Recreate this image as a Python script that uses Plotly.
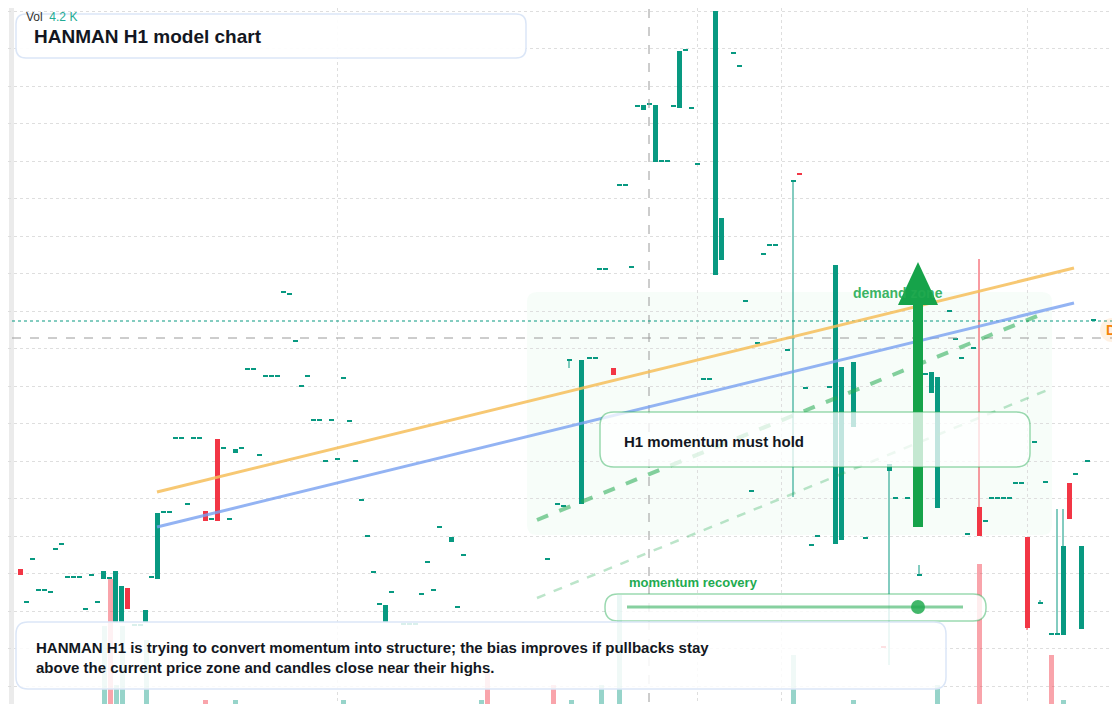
import plotly.graph_objects as go

# bar positions (horizontal slot) and OHLC in price units
pos = [20,26,32,38,44,50,55,61,67,73,79,85,91,97,103,109,115,121,127,134,140,145,151,157,163,169,175,181,187,193,199,205,211,217,223,229,235,241,247,253,259,265,271,277,283,289,295,301,307,313,319,325,331,337,343,349,355,361,367,373,379,385,391,403,409,415,421,427,433,439,451,457,463,547,557,563,569,581,589,595,599,605,613,619,625,631,637,643,649,655,661,667,673,679,685,691,697,703,709,715,721,733,739,745,751,757,763,769,775,787,793,799,805,811,817,829,835,841,853,865,883,889,895,907,919,925,931,937,949,955,961,967,973,979,985,991,997,1003,1009,1015,1021,1027,1034,1040,1045,1051,1057,1063,1069,1075,1081,1087,1093]
open_ = [135,101,144,113,113,111,154,159,126,126,126,94,128,101,125,125,82,82,116,78,78,82,126,125,191,191,265,265,199,265,265,193,184,265,255,184,251,255,334,334,248,327,327,327,411,409,362,317,327,283,283,242,283,244,325,282,242,203,167,131,99,82,111,79,79,79,109,141,113,176,162,96,148,144,199,197,343,200,345,345,434,434,336,518,518,436,597,594,599,542,542,542,597,596,653,595,539,324,324,429,444,650,637,402,212,360,449,458,458,353,522,531,315,158,167,316,160,164,277,165,58,233,205,205,128,329,311,196,392,364,345,169,355,197,182,205,205,205,205,220,220,167,261,100,221,69,69,69,221,229,75,242,383]
close = [129,101,144,113,113,111,154,159,126,126,126,94,128,101,133,125,133,118,95,78,78,94,126,191,191,191,265,265,199,265,265,183,184,183,255,184,255,255,334,334,248,327,327,327,411,409,362,317,327,283,283,242,283,244,325,282,242,203,167,131,99,99,111,79,79,79,109,141,113,176,167,96,148,144,199,197,344,344,345,345,434,434,329,518,518,436,597,599,599,599,542,542,597,653,653,595,539,324,324,693,486,650,637,402,212,360,449,458,458,353,524,529,315,158,167,316,439,337,342,165,56,240,205,205,129,329,332,327,392,364,345,169,355,168,182,205,205,205,205,220,220,76,261,100,221,69,71,158,185,229,158,242,383]
high = {569:344, 793:524, 889:240, 919:139, 979:445, 1040:104, 1057:195, 1063:195, 1027:167}
low = {569:336, 793:207, 889:39, 1027:74}

vol_pos = [104,110,116,122,146,205,235,343,481,487,553,571,601,619,793,853,937,979,1051,1063]
vol_val = [78,125,19,78,64,4,4,4,4,32,19,4,19,109,49,4,19,140,49,4]
vol_up = [1,0,1,1,1,0,1,1,1,0,0,1,1,1,1,1,1,0,0,1]

GREEN, RED = "#089981", "#F23645"
H = 704
OFF = 8  # page body margin of the browser

fig = go.Figure()

fig.add_trace(go.Bar(x=vol_pos, y=vol_val, width=5, yaxis="y2",
                     marker=dict(color=["rgba(8,153,129,0.42)" if u else "rgba(242,54,69,0.45)" for u in vol_up], line_width=0),
                     hoverinfo="skip", showlegend=False))

for col, up in ((GREEN, True), (RED, False)):
    wx, wy = [], []
    for i, p in enumerate(pos):
        if (close[i] >= open_[i]) != up:
            continue
        hi = high.get(p, max(open_[i], close[i]))
        lo = low.get(p, min(open_[i], close[i]))
        if hi > max(open_[i], close[i]) or lo < min(open_[i], close[i]):
            wx += [p, p, None]; wy += [hi, lo, None]
    fig.add_trace(go.Scatter(x=wx, y=wy, mode="lines", line=dict(color=col, width=1), hoverinfo="skip", showlegend=False))

base = [min(o, c) for o, c in zip(open_, close)]
hgt = [max(abs(c - o), 1.6) for o, c in zip(open_, close)]
cols = [GREEN if c >= o else RED for o, c in zip(open_, close)]
fig.add_trace(go.Bar(x=pos, y=hgt, base=base, width=5, marker=dict(color=cols, line_width=0), showlegend=False))

def Y(py):
    return H - py

def rrect(x0, y0, x1, y1, r):
    a, b = Y(y0), Y(y1)
    return (f"M{x0+r},{a} L{x1-r},{a} Q{x1},{a} {x1},{a-r} L{x1},{b+r} Q{x1},{b} {x1-r},{b} "
            f"L{x0+r},{b} Q{x0},{b} {x0},{b+r} L{x0},{a-r} Q{x0},{a} {x0+r},{a} Z")

shapes = []
shapes.append(dict(type="rect", x0=9, x1=14, y0=Y(720), y1=Y(-20), fillcolor="#ebebeb", line_width=0, layer="below"))
shapes.append(dict(type="line", x0=649, x1=649, y0=Y(720), y1=Y(-20), line=dict(color="#9a9a9a", width=1, dash="dash")))
shapes.append(dict(type="line", x0=12, x1=1130, y0=Y(338), y1=Y(338), line=dict(color="#9a9a9a", width=1, dash="dash")))
shapes.append(dict(type="line", x0=12, x1=1130, y0=Y(321), y1=Y(321), line=dict(color="#089981", width=1, dash="dot")))
shapes.append(dict(type="path", path=rrect(527, 292, 1052, 535, 10), fillcolor="rgba(34,197,94,0.035)", line_width=0, layer="below"))
shapes.append(dict(type="line", x0=157, y0=Y(492), x1=1074, y1=Y(268), line=dict(color="rgba(246,190,90,0.85)", width=3)))
shapes.append(dict(type="line", x0=157, y0=Y(527), x1=1074, y1=Y(303), line=dict(color="rgba(120,160,240,0.8)", width=3)))
shapes.append(dict(type="line", x0=537, y0=Y(520), x1=1047, y1=Y(312), line=dict(color="rgba(34,170,80,0.55)", width=4, dash="dash")))
shapes.append(dict(type="line", x0=537, y0=Y(598), x1=1050, y1=Y(389), line=dict(color="rgba(34,170,80,0.3)", width=2.5, dash="dash")))
shapes.append(dict(type="line", x0=918, x1=918, y0=Y(527), y1=Y(300), line=dict(color="#16a34a", width=10)))
shapes.append(dict(type="path", path=f"M898,{Y(305)} L938,{Y(305)} L918,{Y(262)} Z", fillcolor="#16a34a", line_width=0))
shapes.append(dict(type="path", path=rrect(16, 14, 526, 58, 10), fillcolor="rgba(255,255,255,0.92)", line=dict(color="#dbe6f7", width=1.5)))
shapes.append(dict(type="path", path=rrect(600, 412, 1030, 467, 14), fillcolor="rgba(255,255,255,0.75)", line=dict(color="rgba(34,170,80,0.45)", width=1.5)))
shapes.append(dict(type="path", path=rrect(605, 594, 986, 621, 13), fillcolor="rgba(255,255,255,0.8)", line=dict(color="rgba(34,170,80,0.45)", width=1.5)))
shapes.append(dict(type="line", x0=627, x1=963, y0=Y(607), y1=Y(607), line=dict(color="rgba(34,170,80,0.55)", width=3)))
shapes.append(dict(type="circle", x0=911, x1=925, y0=Y(614), y1=Y(600), fillcolor="rgba(34,170,80,0.85)", line_width=0))
shapes.append(dict(type="path", path=rrect(16, 622, 946, 689, 12), fillcolor="rgba(255,255,255,0.85)", line=dict(color="#dbe6f7", width=1.5)))
shapes.append(dict(type="circle", x0=1100, x1=1124, y0=Y(342), y1=Y(318), fillcolor="rgba(255,160,60,0.15)", line_width=0))

F = "Liberation Sans, Arial, sans-serif"
ann = [
    dict(x=24, y=Y(8), text="Vol  <span style='color:#22ab94'>4.2 K</span>", font=dict(size=12, color="#333", family=F), xanchor="left", yanchor="top"),
    dict(x=32, y=Y(36), text="<b>HANMAN H1 model chart</b>", font=dict(size=19, color="#131722", family=F), xanchor="left"),
    dict(x=851, y=Y(293), text="<b>demand zone</b>", font=dict(size=14, color="rgba(34,170,80,0.9)", family=F), xanchor="left"),
    dict(x=622, y=Y(441), text="<b>H1 momentum must hold</b>", font=dict(size=15, color="#131722", family=F), xanchor="left"),
    dict(x=627, y=Y(582), text="<b>momentum recovery</b>", font=dict(size=13, color="#22ab50", family=F), xanchor="left"),
    dict(x=34, y=Y(657), text="<b>HANMAN H1 is trying to convert momentum into structure; the bias improves if pullbacks stay<br>above the current price zone and candles close near their highs.</b>",
         font=dict(size=15, color="#131722", family=F), xanchor="left", align="left"),
    dict(x=1104, y=Y(330), text="<b>D</b>", font=dict(size=14, color="#f5840b", family=F), xanchor="left"),
]
for a in ann:
    a.setdefault("yanchor", "middle")
    a.update(showarrow=False, xref="x", yref="y")

fig.update_layout(
    width=1120, height=704, margin=dict(l=0, r=0, t=0, b=0),
    paper_bgcolor="white", plot_bgcolor="white", barmode="overlay", bargap=0,
    shapes=shapes, annotations=ann,
    xaxis=dict(range=[OFF, 1120 + OFF], tickvals=[337, 697, 781, 1027], showticklabels=False, showgrid=True,
               gridcolor="#dedede", griddash="dot", zeroline=False),
    yaxis=dict(range=[-OFF, H - OFF], tickvals=[H - (11 + 37.5 * k) for k in range(19)], showticklabels=False,
               showgrid=True, gridcolor="#dedede", griddash="dot", zeroline=False),
    yaxis2=dict(range=[-OFF, H - OFF], overlaying="y", visible=False),
)
fig.write_html("out.html")
